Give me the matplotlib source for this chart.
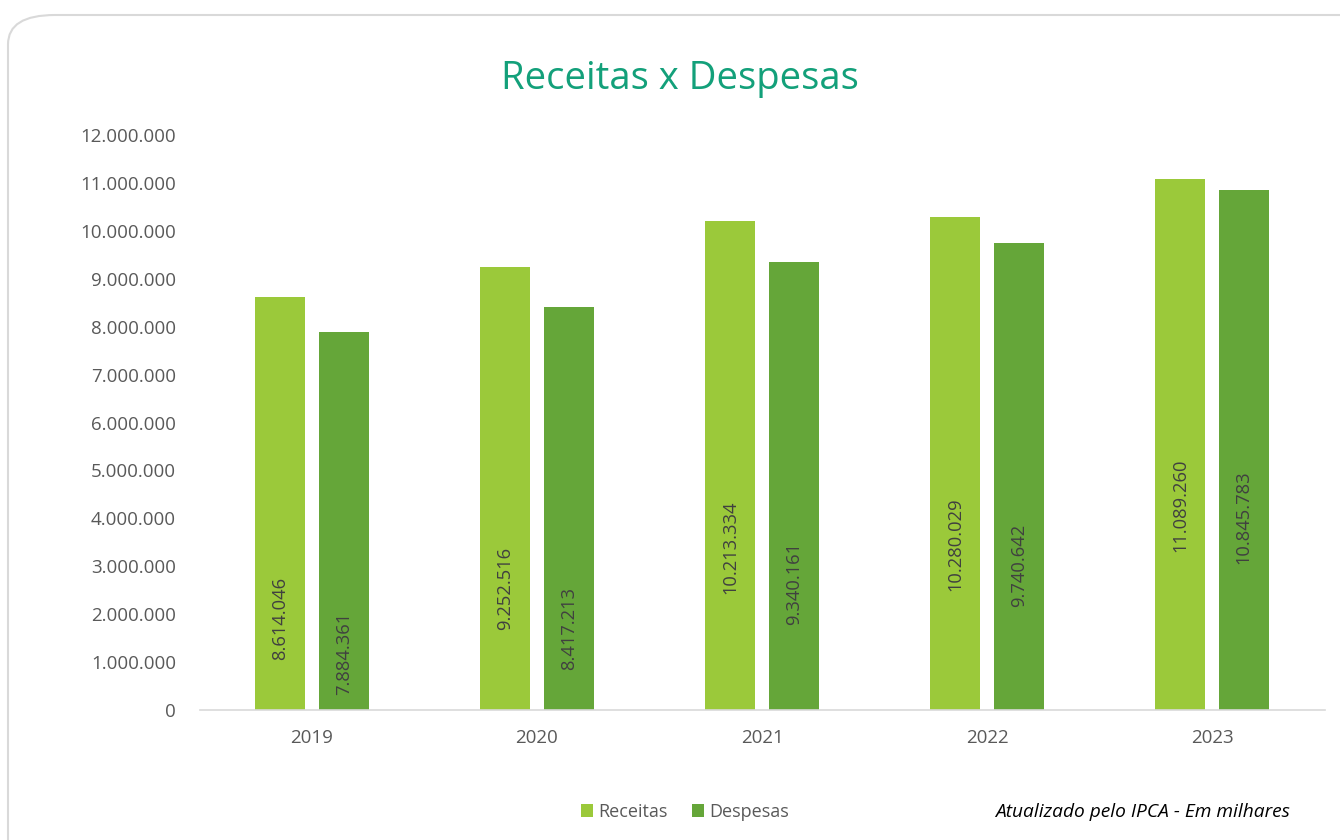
import matplotlib.pyplot as plt
import numpy as np
from matplotlib.patches import FancyBboxPatch

plt.rcParams['font.family'] = ['Open Sans', 'DejaVu Sans']

# dados (em milhares, atualizado pelo IPCA)
anos = ['2019', '2020', '2021', '2022', '2023']
receitas = [8614046, 9252516, 10213334, 10280029, 11089260]
despesas = [7884361, 8417213, 9340161, 9740642, 10845783]
yticks = np.arange(0, 12000001, 1000000)

cor_receitas = '#9BC93A'
cor_despesas = '#65A639'
cor_titulo = '#13A07A'
cinza = '#595959'


def fmt_br(v):
    return f'{v:,.0f}'.replace(',', '.')


fig = plt.figure(figsize=(13.4, 8.4), dpi=100)

# moldura arredondada (passa das bordas direita e inferior)
y_topo = 1 - 15 / 840
moldura = FancyBboxPatch((8 / 1340, -0.2), 1.2, y_topo + 0.2,
                         boxstyle='round,pad=0,rounding_size=0.035',
                         transform=fig.transFigure, facecolor='white',
                         edgecolor='#D9D9D9', linewidth=1.5, zorder=-1)
fig.add_artist(moldura)

ax = fig.add_axes([199.5 / 1340, 130 / 840, 1125 / 1340, 575 / 840])
ax.set_facecolor('none')
ax.set_zorder(2)

x = np.arange(len(anos))
w = 0.222
off = 0.141
b1 = ax.bar(x - off, receitas, w, color=cor_receitas, label='Receitas')
b2 = ax.bar(x + off, despesas, w, color=cor_despesas, label='Despesas')

# rótulos dentro das barras (rotacionados)
for barras in (b1, b2):
    for r in barras:
        v = r.get_height()
        ax.annotate(fmt_br(v), (r.get_x() + r.get_width() / 2, v),
                    xytext=(0, -280 * 0.72), textcoords='offset points',
                    rotation=90, ha='center', va='top',
                    fontsize=13.2, color='#404040')

ax.set_xlim(-0.5, len(anos) - 0.5)
ax.set_ylim(0, 12000000)
ax.set_xticks(x)
ax.set_xticklabels(anos)
ax.set_yticks(yticks)
ax.set_yticklabels([fmt_br(v) for v in yticks])
ax.tick_params(axis='both', length=0, labelsize=13.5, labelcolor=cinza)
ax.tick_params(axis='y', pad=17)
ax.tick_params(axis='x', pad=14)

for s in ['top', 'right', 'left']:
    ax.spines[s].set_visible(False)
ax.spines['bottom'].set_color('#D9D9D9')
ax.spines['bottom'].set_linewidth(1.2)

fig.text(680 / 1340, 1 - 79 / 840, 'Receitas x Despesas', ha='center',
         va='center', fontsize=27.5, color=cor_titulo)

leg = fig.legend(handles=[b1, b2], loc='center', bbox_to_anchor=(685 / 1340, 1 - 812 / 840),
                 ncol=2, frameon=False, fontsize=13, handlelength=0.7,
                 handleheight=0.7, handletextpad=0.3, columnspacing=1.3)
for t in leg.get_texts():
    t.set_color(cinza)

fig.text(1290 / 1340, 1 - 812 / 840, 'Atualizado pelo IPCA - Em milhares',
         ha='right', va='center', fontsize=13.8, style='italic', color='black')

fig.savefig('out.png', dpi=100)
